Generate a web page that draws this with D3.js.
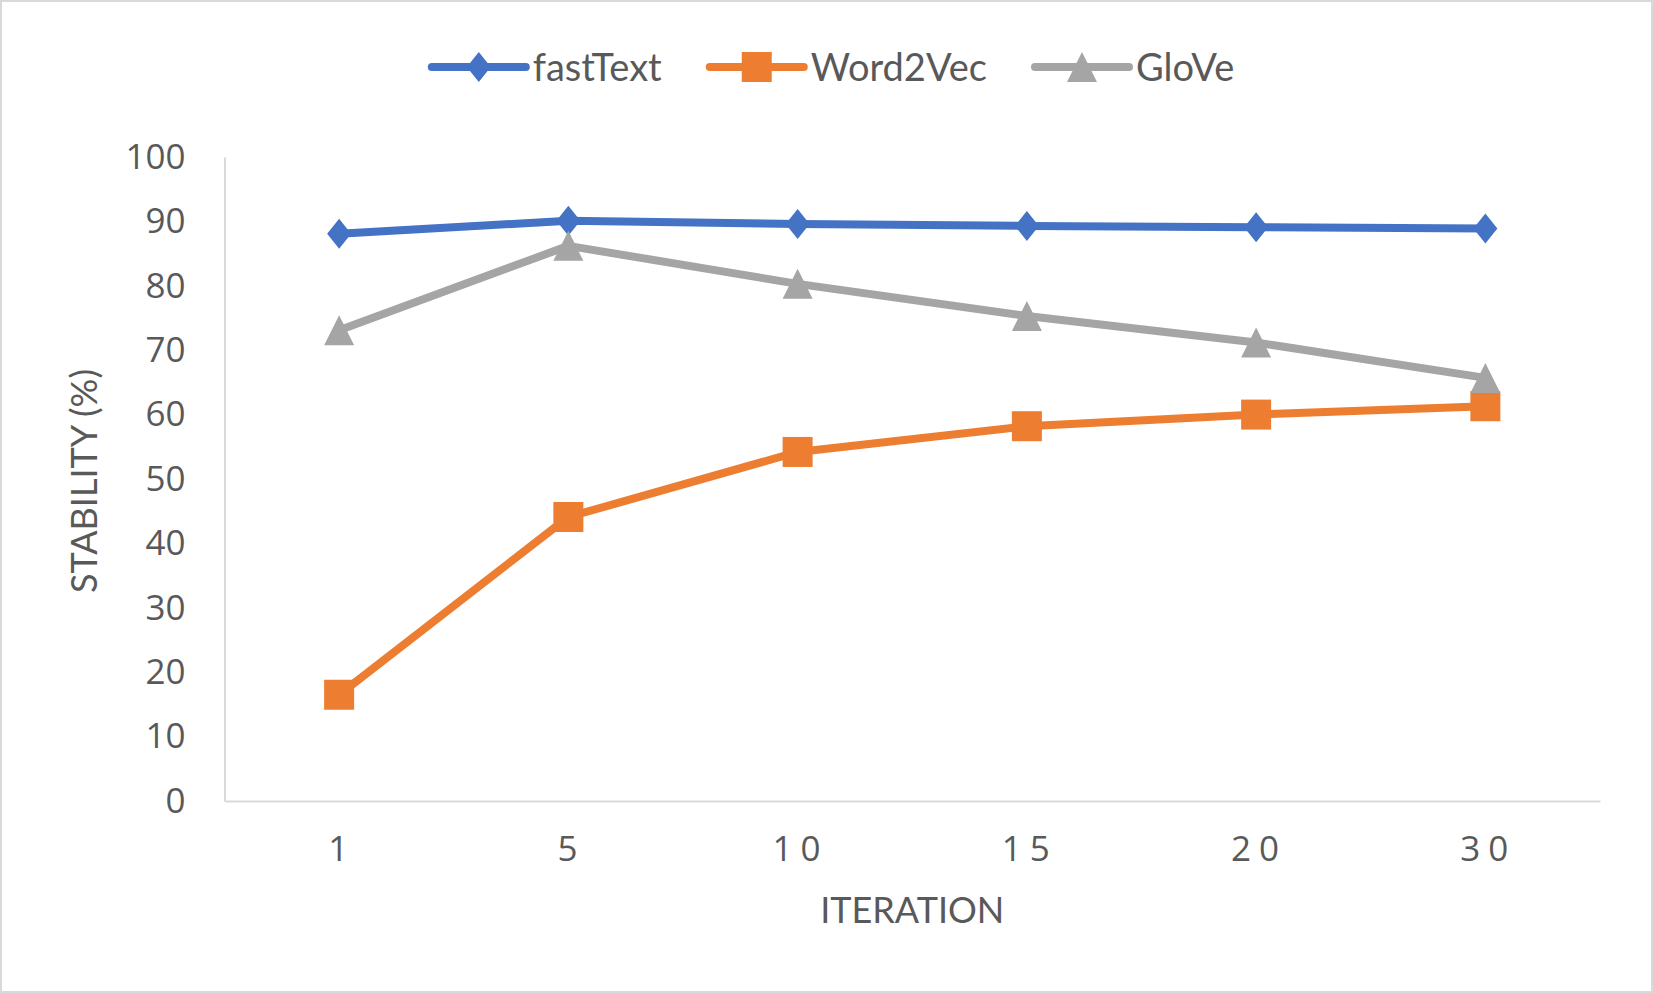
<!DOCTYPE html>
<html>
<head>
<meta charset="utf-8">
<script src="https://cdn.jsdelivr.net/npm/d3@7"></script>
<style>
  html, body { margin: 0; padding: 0; background: #fff; }
  svg { display: block; }
</style>
</head>
<body>
<svg id="chart" width="1653" height="993"></svg>
<script>
// data
const iterations = ["1", "5", "10", "15", "20", "30"];
const fastText = [88.1, 90.1, 89.6, 89.3, 89.1, 88.9];
const word2Vec = [16.5, 44.1, 54.2, 58.2, 60.0, 61.3];
const glove = [73.1, 86.2, 80.3, 75.3, 71.2, 65.7];
const yTicks = [0, 10, 20, 30, 40, 50, 60, 70, 80, 90, 100];

const series = [
    {name: "fastText", values: fastText, color: "#4472C4", marker: "diamond"},
    {name: "Word2Vec", values: word2Vec, color: "#ED7D31", marker: "square"},
    {name: "GloVe", values: glove, color: "#A5A5A5", marker: "triangle"}
];

const width = 1653,
    height = 993,
    plotLeft = 224.5,
    plotRight = 1600,
    plotTop = 157,
    plotBottom = 801,
    textColor = "#595959",
    axisColor = "#D9D9D9",
    lineWidth = 8,
    markerSize = 30;

const svg = d3.select("#chart");

// chart border
svg.append("rect")
    .attr("x", 1).attr("y", 1)
    .attr("width", width - 2).attr("height", height - 2)
    .attr("fill", "#fff")
    .attr("stroke", axisColor)
    .attr("stroke-width", 2);

const x = d3.scaleBand().domain(iterations).range([plotLeft, plotRight]);
const y = d3.scaleLinear().domain([0, 100]).range([plotBottom, plotTop]);

function markerPath(type, s) {
    const h = s / 2;
    const p = d3.path();
    if (type === "diamond") {
        const w = h * 0.8;
        p.moveTo(0, -h); p.lineTo(w, 0); p.lineTo(0, h); p.lineTo(-w, 0);
    } else if (type === "square") {
        p.rect(-h, -h, s, s);
    } else {
        p.moveTo(0, -h); p.lineTo(h, h); p.lineTo(-h, h);
    }
    p.closePath();
    return p.toString();
}

// y axis
const yAxis = svg.append("g")
    .attr("transform", "translate(" + plotLeft + ",0)")
    .call(d3.axisLeft(y).tickValues(yTicks).tickSize(0).tickPadding(39));
yAxis.select(".domain").attr("stroke", axisColor).attr("stroke-width", 2);
yAxis.selectAll("text")
    .attr("fill", textColor)
    .style("font-family", "'Open Sans', sans-serif")
    .style("font-size", "35px");

// x axis
const xAxis = svg.append("g")
    .attr("transform", "translate(0," + plotBottom + ")")
    .call(d3.axisBottom(x).tickSize(0).tickPadding(35));
xAxis.select(".domain").attr("stroke", axisColor).attr("stroke-width", 2);
xAxis.selectAll("text")
    .attr("fill", textColor)
    .attr("dx", "3px")
    .style("letter-spacing", "8px")
    .style("font-family", "'Open Sans', sans-serif")
    .style("font-size", "35px");

// axis titles
svg.append("text")
    .attr("x", (plotLeft + plotRight) / 2)
    .attr("y", 923)
    .attr("text-anchor", "middle")
    .attr("fill", textColor)
    .style("font-family", "Lato, sans-serif")
    .style("font-size", "36px")
    .text("ITERATION");

svg.append("text")
    .attr("transform", "translate(97,481) rotate(-90)")
    .attr("text-anchor", "middle")
    .attr("fill", textColor)
    .style("font-family", "Lato, sans-serif")
    .style("font-size", "36px")
    .text("STABILITY (%)");

// lines and markers
const line = d3.line()
    .x((d, i) => x(iterations[i]) + x.bandwidth() / 2)
    .y(d => y(d));

series.forEach(s => {
    const g = svg.append("g");
    g.append("path")
        .attr("d", line(s.values))
        .attr("fill", "none")
        .attr("stroke", s.color)
        .attr("stroke-width", lineWidth)
        .attr("stroke-linejoin", "round")
        .attr("stroke-linecap", "round");
    g.selectAll("path.marker")
        .data(s.values)
        .join("path")
        .attr("class", "marker")
        .attr("transform", (d, i) => "translate(" + (x(iterations[i]) + x.bandwidth() / 2) + "," + y(d) + ")")
        .attr("d", markerPath(s.marker, markerSize))
        .attr("fill", s.color);
});

// legend
const legend = svg.append("g");
let cursor = 0;
series.forEach(s => {
    const item = legend.append("g").attr("transform", "translate(" + cursor + ",0)");
    item.append("line")
        .attr("x1", 0).attr("x2", 94)
        .attr("stroke", s.color)
        .attr("stroke-width", 8)
        .attr("stroke-linecap", "round");
    item.append("path")
        .attr("transform", "translate(47,0)")
        .attr("d", markerPath(s.marker, markerSize))
        .attr("fill", s.color);
    const t = item.append("text")
        .attr("x", 101)
        .attr("dy", "0.36em")
        .attr("fill", textColor)
        .style("font-family", "Lato, sans-serif")
        .style("font-size", "38px")
        .text(s.name);
    cursor += 101 + t.node().getComputedTextLength() + 48;
});
const legendWidth = cursor - 48;
legend.attr("transform", "translate(" + (833 - legendWidth / 2) + ",67)");
</script>
</body>
</html>
